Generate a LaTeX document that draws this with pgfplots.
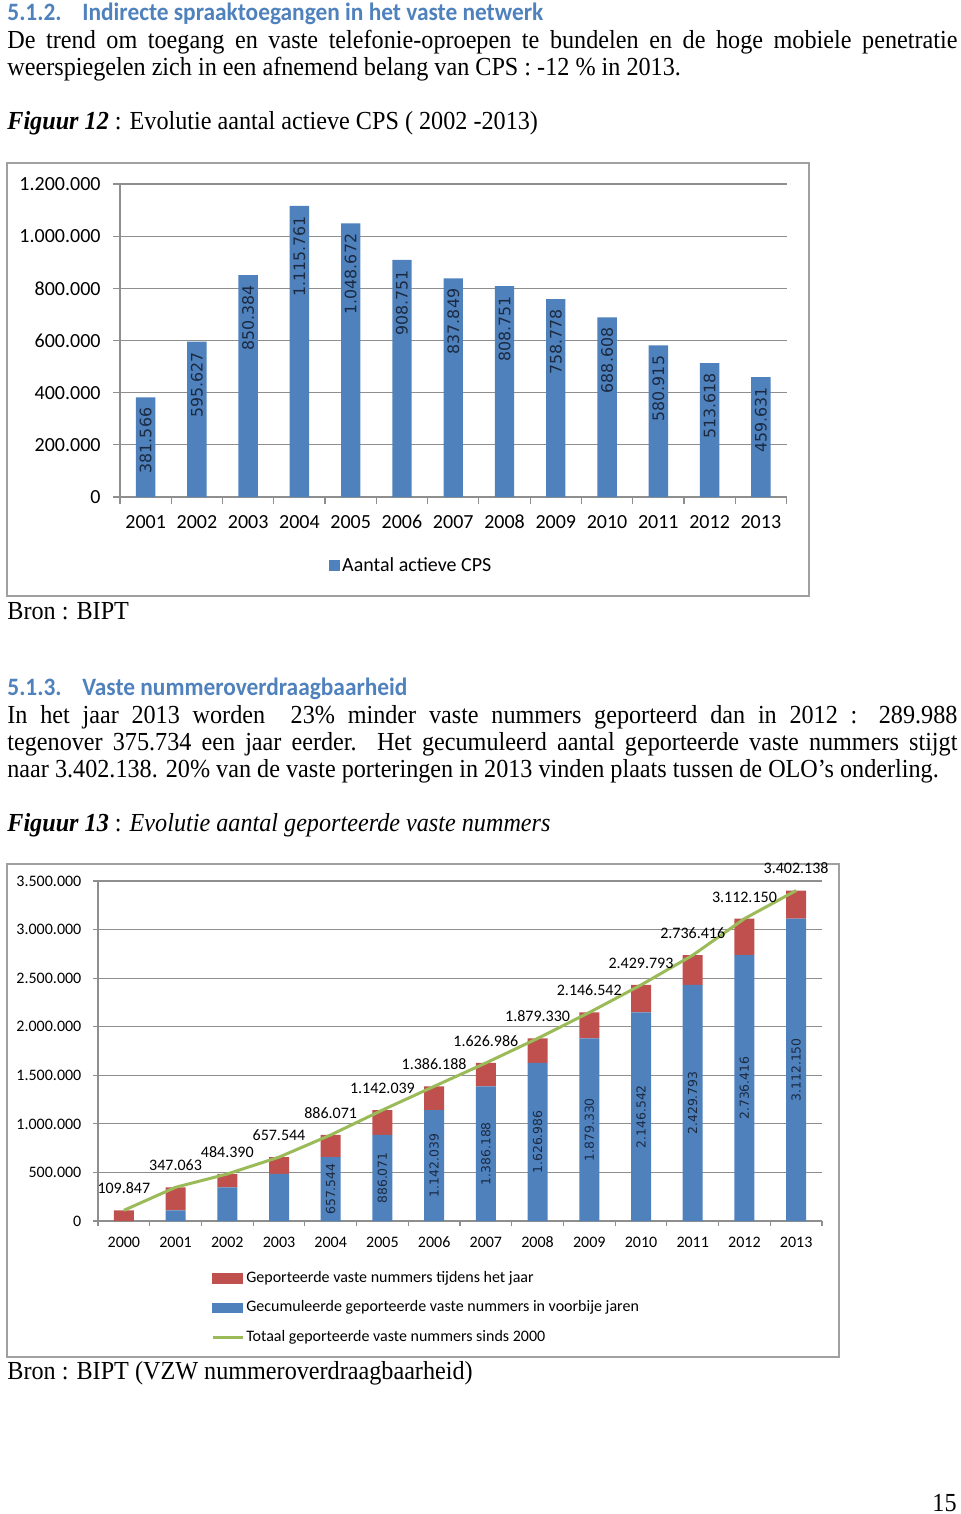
\documentclass[border=0pt]{standalone}
\usepackage{fontspec}
\usepackage{pgfplots}
\pgfplotsset{compat=1.18}
\setmainfont{Liberation Serif}[FakeStretch=0.93]
\newfontfamily\hfont{Carlito}[FakeStretch=0.935]
\newfontfamily\cfont{Carlito}
\newfontfamily\dfont{DejaVu Sans}
\definecolor{hblue}{HTML}{4F81BD}
\definecolor{bblue}{HTML}{4F81BD}
\definecolor{bred}{HTML}{C0504D}
\definecolor{bgreen}{HTML}{9BBB59}
\definecolor{lbl}{HTML}{1B2A41}
\definecolor{gridc}{HTML}{8E8E8E}
\definecolor{framec}{HTML}{A0A0A0}
\newcommand{\bodyfont}{\fontsize{13}{16}\selectfont}
\newcommand{\headfont}{\hfont\bfseries\fontsize{12.5}{15}\selectfont}
\begin{document}
\begin{tikzpicture}
\useasboundingbox (0,0) rectangle (480pt,-757pt);
\begin{scope}[x=0.5pt,y=-0.5pt, every node/.style={inner sep=0pt, anchor=base west}]
% section 5.1.2
\node[text=hblue, font=\headfont] at (7,21) {5.1.2.};
\node[text=hblue, font=\headfont] at (82,21) {Indirecte spraaktoegangen in het vaste netwerk};
\node[font=\bodyfont] at (7,49) {\makebox[475pt][s]{De trend om toegang en vaste telefonie-oproepen te bundelen en de hoge mobiele penetratie}};
\node[font=\bodyfont] at (7,76) {weerspiegelen zich in een afnemend belang van CPS : -12 \% in 2013.};
\node[font=\bodyfont] at (7,130) {\textbf{\textit{Figuur 12}} : Evolutie aantal actieve CPS ( 2002 -2013)};
\draw[framec, line width=0.8pt] (7,163) rectangle (809,596);
\node[font=\bodyfont] at (7,619) {Bron : BIPT};
% section 5.1.3
\node[text=hblue, font=\headfont] at (7,695) {5.1.3.};
\node[text=hblue, font=\headfont] at (82,695) {Vaste nummeroverdraagbaarheid};
\node[font=\bodyfont] at (7,723) {\makebox[475pt][s]{In het jaar 2013 worden \ 23\% minder vaste nummers geporteerd dan in 2012 : 289.988}};
\node[font=\bodyfont] at (7,750) {\makebox[475pt][s]{tegenover 375.734 een jaar eerder. Het gecumuleerd aantal geporteerde vaste nummers stijgt}};
\node[font=\bodyfont] at (7,777) {naar 3.402.138. 20\% van de vaste porteringen in 2013 vinden plaats tussen de OLO’s onderling.};
\node[font=\bodyfont] at (7,831) {\textbf{\textit{Figuur 13}} : \textit{Evolutie aantal geporteerde vaste nummers}};
\draw[framec, line width=0.8pt] (7,864) rectangle (839,1357);
\node[font=\bodyfont] at (7,1379) {Bron : BIPT (VZW nummeroverdraagbaarheid)};
\node[font=\bodyfont, anchor=base east] at (957,1511) {15};
\end{scope}

% ---------- Figure 12 ----------
\begin{axis}[
  at={(60pt,-248.5pt)}, anchor=south west,
  scale only axis, width=333.25pt, height=156.5pt,
  xmin=-0.5, xmax=12.5, ymin=0, ymax=1200000,
  scaled y ticks=false,
  axis x line*=bottom, axis y line*=left,
  axis line style={draw=gridc, line width=0.6pt},
  ybar, bar width=9.7pt,
  ymajorgrids, grid style={draw=gridc, line width=0.6pt},
  ytick={0,200000,400000,600000,800000,1000000,1200000},
  yticklabels={0,200.000,400.000,600.000,800.000,1.000.000,1.200.000},
  xtick={0,...,12},
  xticklabels={2001,2002,2003,2004,2005,2006,2007,2008,2009,2010,2011,2012,2013},
  tick align=outside,
  major tick length=3.5pt,
  ytick style={draw=gridc, line width=0.6pt},
  xtick style={draw=none},
  extra x ticks={-0.5,0.5,...,12.5},
  extra x tick labels={},
  extra x tick style={xtick style={draw=gridc, line width=0.6pt}, grid=none},
  ticklabel style={font=\cfont\fontsize{10}{12}\selectfont},
  yticklabel style={xshift=-2.7pt},
  xticklabel style={yshift=-2pt, text height=6.5pt, text depth=0pt},
  legend style={at={(0.437,-0.22)}, anchor=center, draw=none, fill=none,
    font=\cfont\fontsize{10}{12}\selectfont, inner sep=0pt,
    nodes={inner sep=1.2pt}},
]
\addplot[fill=bblue, draw=none,
  nodes near coords, point meta=explicit symbolic,
  every node near coord/.style={rotate=90, anchor=east, inner xsep=5pt, inner ysep=0pt,
    font=\dfont\fontsize{7.9}{9}\selectfont, text=lbl},
  legend image code/.code={\fill[bblue] (0pt,-2.75pt) rectangle (5.5pt,2.75pt);}]
coordinates {
(0,381566)[381.566] (1,595627)[595.627] (2,850384)[850.384] (3,1115761)[1.115.761]
(4,1048672)[1.048.672] (5,908751)[908.751] (6,837849)[837.849] (7,808751)[808.751]
(8,758778)[758.778] (9,688608)[688.608] (10,580915)[580.915] (11,513618)[513.618]
(12,459631)[459.631]};
\addlegendentry{Aantal actieve CPS}
\end{axis}

% ---------- Figure 13 (bars) ----------
\begin{axis}[
  at={(49pt,-610.5pt)}, anchor=south west,
  scale only axis, width=362pt, height=170pt,
  xmin=-0.5, xmax=13.5, ymin=0, ymax=3500000,
  scaled y ticks=false,
  axis x line*=bottom, axis y line*=left,
  axis line style={draw=gridc, line width=0.6pt},
  ybar stacked, bar width=10pt,
  ymajorgrids, grid style={draw=gridc, line width=0.6pt},
  ytick={0,500000,1000000,1500000,2000000,2500000,3000000,3500000},
  yticklabels={0,500.000,1.000.000,1.500.000,2.000.000,2.500.000,3.000.000,3.500.000},
  xtick={0,...,13},
  xticklabels={2000,2001,2002,2003,2004,2005,2006,2007,2008,2009,2010,2011,2012,2013},
  tick align=outside,
  major tick length=2.5pt,
  ytick style={draw=gridc, line width=0.6pt},
  xtick style={draw=none},
  extra x ticks={-0.5,0.5,...,13.5},
  extra x tick labels={},
  extra x tick style={xtick style={draw=gridc, line width=0.6pt}, grid=none},
  ticklabel style={font=\cfont\fontsize{8}{10}\selectfont},
  yticklabel style={xshift=-2.3pt},
  xticklabel style={yshift=-2pt, text height=5.2pt, text depth=0pt},
]
\addplot[fill=bblue, draw=none] coordinates {
(0,0) (1,109847) (2,347063) (3,484390) (4,657544) (5,886071) (6,1142039)
(7,1386188) (8,1626986) (9,1879330) (10,2146542) (11,2429793) (12,2736416) (13,3112150)};
\addplot[fill=bred, draw=none] coordinates {
(0,109847) (1,237216) (2,137327) (3,173154) (4,228527) (5,255968) (6,244149)
(7,240798) (8,252344) (9,267212) (10,283251) (11,306623) (12,375734) (13,289988)};
\end{axis}

% ---------- Figure 13 (line, labels, legend) ----------
\begin{axis}[
  at={(49pt,-610.5pt)}, anchor=south west,
  scale only axis, width=362pt, height=170pt,
  xmin=-0.5, xmax=13.5, ymin=0, ymax=3500000,
  hide axis, clip=false,
  legend style={at={(0.156,-0.141)}, anchor=north west, draw=none, fill=none,
    font=\cfont\fontsize{8}{10}\selectfont, inner sep=0pt,
    nodes={inner sep=1pt, anchor=west}, row sep=5.6pt},
  legend cell align=left,
]
\addplot[draw=none, forget plot, nodes near coords, point meta=explicit symbolic,
  every node near coord/.style={rotate=90, anchor=center, inner sep=0pt,
    font=\dfont\fontsize{6.2}{7}\selectfont, text=lbl}]
coordinates {
(4,328772)[657.544] (5,443036)[886.071] (6,571020)[1.142.039] (7,693094)[1.386.188]
(8,813493)[1.626.986] (9,939665)[1.879.330] (10,1073271)[2.146.542]
(11,1214897)[2.429.793] (12,1368208)[2.736.416] (13,1556075)[3.112.150]};
\addplot[bgreen, line width=1.5pt, mark=none, forget plot,
  nodes near coords, point meta=explicit symbolic,
  every node near coord/.style={anchor=south, inner sep=0pt, yshift=7.5pt,
    font=\cfont\fontsize{8}{10}\selectfont, text=black}]
coordinates {
(0,109847)[109.847] (1,347063)[347.063] (2,484390)[484.390] (3,657544)[657.544]
(4,886071)[886.071] (5,1142039)[1.142.039] (6,1386188)[1.386.188] (7,1626986)[1.626.986]
(8,1879330)[1.879.330] (9,2146542)[2.146.542] (10,2429793)[2.429.793]
(11,2736416)[2.736.416] (12,3112150)[3.112.150] (13,3402138)[3.402.138]};
\addlegendimage{legend image code/.code={\fill[bred] (0pt,-2.3pt) rectangle (15pt,2.3pt);}}
\addlegendentry{Geporteerde vaste nummers tijdens het jaar}
\addlegendimage{legend image code/.code={\fill[bblue] (0pt,-2.3pt) rectangle (15pt,2.3pt);}}
\addlegendentry{Gecumuleerde geporteerde vaste nummers in voorbije jaren}
\addlegendimage{legend image code/.code={\draw[bgreen, line width=1.5pt] (0pt,0pt) -- (15pt,0pt);}}
\addlegendentry{Totaal geporteerde vaste nummers sinds 2000}
\end{axis}
\end{tikzpicture}
\end{document}
